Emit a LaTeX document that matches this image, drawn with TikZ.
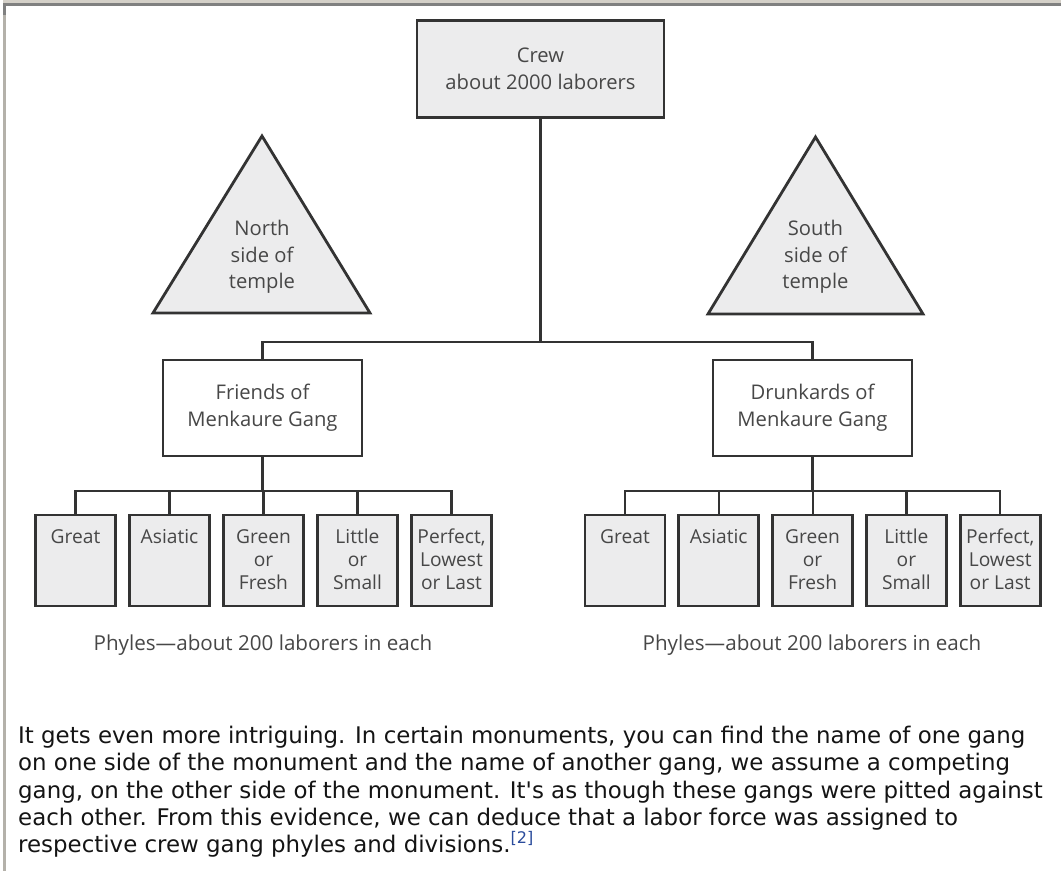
\documentclass[tikz,border=0pt]{standalone}
\usepackage{fontspec}
\setmainfont{Open Sans}
\newfontfamily\parafont{DejaVu Sans}
\usetikzlibrary{positioning}

\definecolor{boxfill}{HTML}{ECECED}
\definecolor{linegray}{HTML}{333333}
\definecolor{inkgray}{HTML}{474747}
\definecolor{framedark}{HTML}{808080}
\definecolor{framelight}{HTML}{D4D0C8}
\definecolor{refblue}{HTML}{2B4C9C}

\tikzset{
  orgbox/.style={draw=linegray, line width=2.8pt, fill=boxfill, align=center,
    text=inkgray, inner sep=0pt, font=\fontsize{20.2}{26.5}\selectfont},
  crewbox/.style={orgbox, minimum width=247pt, minimum height=97pt},
  gangbox/.style={orgbox, fill=white, minimum width=199pt, minimum height=96pt,
    font=\fontsize{20.2}{27}\selectfont},
  phylebox/.style={orgbox, minimum width=80pt, minimum height=91pt},
  sidetri/.style={draw=linegray, line width=2.8pt, fill=boxfill, line join=miter},
  sidetext/.style={align=center, text=inkgray, font=\fontsize{20.2}{26.5}\selectfont},
  caption/.style={text=inkgray, font=\fontsize{20.6}{24}\selectfont},
  link/.style={draw=linegray, line width=2.2pt},
}
\newcommand{\phyletext}[1]{\parbox[c][91pt][t]{78pt}{\fontsize{19.2}{23.3}\selectfont\centering\vspace*{12pt}\strut#1}}

\begin{document}
\begin{tikzpicture}[x=1pt, y=-1pt]
\useasboundingbox (0,0) rectangle (1061,871);

% page frame
\fill[framelight] (3,0) rectangle (1061,3);
\fill[framedark] (3,3) rectangle (1061,5.5);
\fill[framelight!85!black] (3,5.5) rectangle (6,871);
\fill[framedark] (3,5.5) rectangle (6,15);

% crew and gangs
\node[crewbox] (crew) at (540.5,69) {Crew\\about 2000 laborers};
\node[gangbox] (friends) at (262.5,408) {Friends of\\Menkaure Gang};
\node[gangbox] (drunkards) at (812.5,408) {Drunkards of\\Menkaure Gang};

% temple sides
\draw[sidetri] (262,136) -- (370,313) -- (153,313) -- cycle;
\node[sidetext] (north) at (262,257) {North\\side of\\temple};
\draw[sidetri] (815.5,137) -- (923,314) -- (708,314) -- cycle;
\node[sidetext] (south) at (815.5,257) {South\\side of\\temple};

% phyles
\foreach \name [count=\i] in {Great, Asiatic, {Green\\or\\Fresh}, {Little\\or\\Small}, {Perfect,\\Lowest\\or Last}} {
  \node[phylebox] (fp\i) at ({75.5+94*(\i-1)},560.5) {\phyletext{\name}};
  \node[phylebox] (dp\i) at ({625+93.8*(\i-1)},560.5) {\phyletext{\name}};
}
\node[caption] (fcap) at (263,645) {Phyles—about 200 laborers in each};
\node[caption] (dcap) at (812,645) {Phyles—about 200 laborers in each};

% connectors
\coordinate (bar) at (0,342);
\draw[link] (crew.south) -- (crew.south |- bar);
\draw[link] (friends.north) -- (friends.north |- bar) -| (drunkards.north);
\foreach \i in {1,...,5} {
  \draw[link] (fp\i.north) -- ++(0,-23) -| (friends.south);
  \draw[link] (dp\i.north) -- ++(0,-23) -| (drunkards.south);
}

% text below
\node[anchor=north west, align=left, inner sep=0pt, text=black!92,
  font=\parafont\fontsize{22.9}{27.2}\selectfont] (para) at (18,726)
  {It gets even more intriguing. In certain monuments, you can find the name of one gang\\
   on one side of the monument and the name of another gang, we assume a competing\\
   gang, on the other side of the monument. It's as though these gangs were pitted against\\
   each other. From this evidence, we can deduce that a labor force was assigned to\\
   respective crew gang phyles and divisions.\textsuperscript{\color{refblue}[2]}};
\end{tikzpicture}
\end{document}
